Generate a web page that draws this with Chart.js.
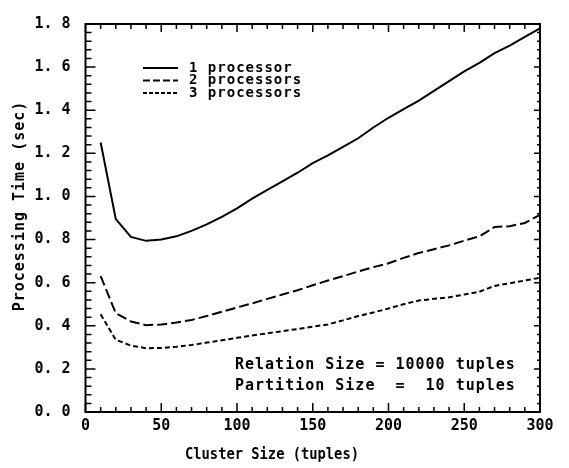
<!DOCTYPE html>
<html>
<head>
<meta charset="utf-8">
<script src="https://cdn.jsdelivr.net/npm/chart.js@4/dist/chart.umd.min.js"></script>
<style>
html,body{margin:0;padding:0;background:#fff;}
#wrap{width:569px;height:468px;}
</style>
</head>
<body>
<div id="wrap"><canvas id="c" width="569" height="468"></canvas></div>
<script>
// ---- data ----
const clusterSizes = [10,20,30,40,50,60,70,80,90,100,110,120,130,140,150,160,170,180,190,200,210,220,230,240,250,260,270,280,290,300];
const oneProcessor = [1.25,0.895,0.812,0.794,0.80,0.815,0.84,0.87,0.905,0.945,0.99,1.03,1.07,1.11,1.155,1.19,1.23,1.27,1.32,1.365,1.405,1.445,1.49,1.535,1.58,1.62,1.665,1.70,1.74,1.78];
const twoProcessors = [0.63,0.458,0.42,0.403,0.406,0.415,0.427,0.445,0.465,0.485,0.504,0.525,0.545,0.565,0.588,0.61,0.63,0.652,0.672,0.69,0.715,0.738,0.755,0.773,0.795,0.815,0.858,0.862,0.877,0.915];
const threeProcessors = [0.453,0.335,0.308,0.296,0.297,0.303,0.311,0.322,0.333,0.344,0.355,0.365,0.375,0.385,0.396,0.406,0.425,0.445,0.462,0.48,0.50,0.517,0.525,0.532,0.545,0.558,0.585,0.597,0.61,0.623];
const seriesLabels = ["1 processor","2 processors","3 processors"];
const xTickValues = [0,50,100,150,200,250,300];
const yTickValues = [0.0,0.2,0.4,0.6,0.8,1.0,1.2,1.4,1.6,1.8];
const xTitle = "Cluster Size (tuples)";
const yTitle = "Processing Time (sec)";
const noteLines = ["Relation Size = 10000 tuples","Partition Size  =  10 tuples"];

const MONO = '"DejaVu Sans Mono", monospace';
const dashes = [[], [10,4], [5,3]];

function pts(ys){ return clusterSizes.map((x,i)=>({x:x,y:ys[i]})); }

const datasets = [oneProcessor,twoProcessors,threeProcessors].map((ys,i)=>({
  label: seriesLabels[i],
  data: pts(ys),
  borderColor:'#000',
  borderWidth:2,
  borderDash:dashes[i],
  pointRadius:0,
  tension:0,
  fill:false
}));

const deco = {
  id:'deco',
  afterDraw(chart){
    const ctx = chart.ctx;
    const a = chart.chartArea;
    const xs = chart.scales.x, ys = chart.scales.y;
    ctx.save();
    ctx.strokeStyle = '#000';
    ctx.fillStyle = '#000';
    // frame
    ctx.lineWidth = 2;
    ctx.setLineDash([]);
    ctx.strokeRect(a.left, a.top, a.right-a.left, a.bottom-a.top);
    // ticks
    ctx.lineWidth = 1.5;
    ctx.beginPath();
    for(let v=0; v<=300.001; v+=10){
      const px = xs.getPixelForValue(v);
      const major = Math.abs(v % 50) < 1e-6;
      const L = major ? 9 : 5;
      ctx.moveTo(px, a.bottom); ctx.lineTo(px, a.bottom - L);
      ctx.moveTo(px, a.top); ctx.lineTo(px, a.top + (major?8:5));
    }
    for(let k=0; k<=45; k++){
      const v = k*0.04;
      const py = ys.getPixelForValue(v);
      const major = (k % 5) === 0;
      const L = major ? 10 : 6;
      ctx.moveTo(a.left, py); ctx.lineTo(a.left + L, py);
      ctx.moveTo(a.right, py); ctx.lineTo(a.right - (major?6:3), py);
    }
    ctx.stroke();

    // legend
    const lx0 = 143, lx1 = 178, ly = [68, 80.5, 93];
    ctx.font = 'bold 14px ' + MONO;
    ctx.textBaseline = 'middle';
    ctx.textAlign = 'left';
    if ('letterSpacing' in ctx) ctx.letterSpacing = '1px';
    chart.data.datasets.forEach((ds,i)=>{
      ctx.lineWidth = 2;
      ctx.setLineDash(i===1 ? [7,3] : (i===2 ? [4,2] : []));
      ctx.beginPath();
      ctx.moveTo(lx0, ly[i]); ctx.lineTo(lx1, ly[i]);
      ctx.stroke();
      ctx.setLineDash([]);
      ctx.fillText(ds.label, 189, ly[i]);
    });

    // notes
    ctx.font = 'bold 15px ' + MONO;
    if ('letterSpacing' in ctx) ctx.letterSpacing = '1px';
    ctx.fillText(noteLines[0], 235, 365);
    ctx.fillText(noteLines[1], 235, 386);

    // x title (tall, narrow)
    ctx.save();
    ctx.translate(185, 455);
    ctx.scale(0.86, 1);
    ctx.font = 'bold 16px ' + MONO;
    if ('letterSpacing' in ctx) ctx.letterSpacing = '0px';
    ctx.textAlign = 'left';
    ctx.fillText(xTitle, 0, 0);
    ctx.restore();

    // y title
    ctx.save();
    ctx.translate(20, 206);
    ctx.rotate(-Math.PI/2);
    ctx.font = 'bold 15px ' + MONO;
    if ('letterSpacing' in ctx) ctx.letterSpacing = '1px';
    ctx.textAlign = 'center';
    ctx.fillText(yTitle, 0, 0);
    ctx.restore();

    ctx.restore();
  }
};

new Chart(document.getElementById('c'), {
  type:'line',
  data:{datasets},
  options:{
    responsive:false,
    animation:false,
    devicePixelRatio:1,
    layout:{padding:{top:16,right:29,left:0,bottom:0}},
    plugins:{legend:{display:false}, tooltip:{enabled:false}},
    scales:{
      x:{
        type:'linear', min:0, max:300,
        afterFit(s){ s.height = 56; },
        afterBuildTicks(s){ s.ticks = xTickValues.map(v=>({value:v})); },
        ticks:{color:'#000', padding:5, maxRotation:0, autoSkip:false,
               font:{family:MONO, size:15, weight:'bold'},
               callback:(v)=>String(v)},
        grid:{display:false, drawTicks:false},
        border:{display:false}
      },
      y:{
        type:'linear', min:0, max:1.8,
        afterFit(s){ s.width = 85.5; },
        afterBuildTicks(s){ s.ticks = yTickValues.map(v=>({value:v})); },
        ticks:{color:'#000', padding:15, autoSkip:false,
               font:{family:MONO, size:15, weight:'bold'},
               callback:(v)=>Number(v).toFixed(1).replace('.', '. ')},
        grid:{display:false, drawTicks:false},
        border:{display:false}
      }
    }
  },
  plugins:[deco]
});
</script>
</body>
</html>
